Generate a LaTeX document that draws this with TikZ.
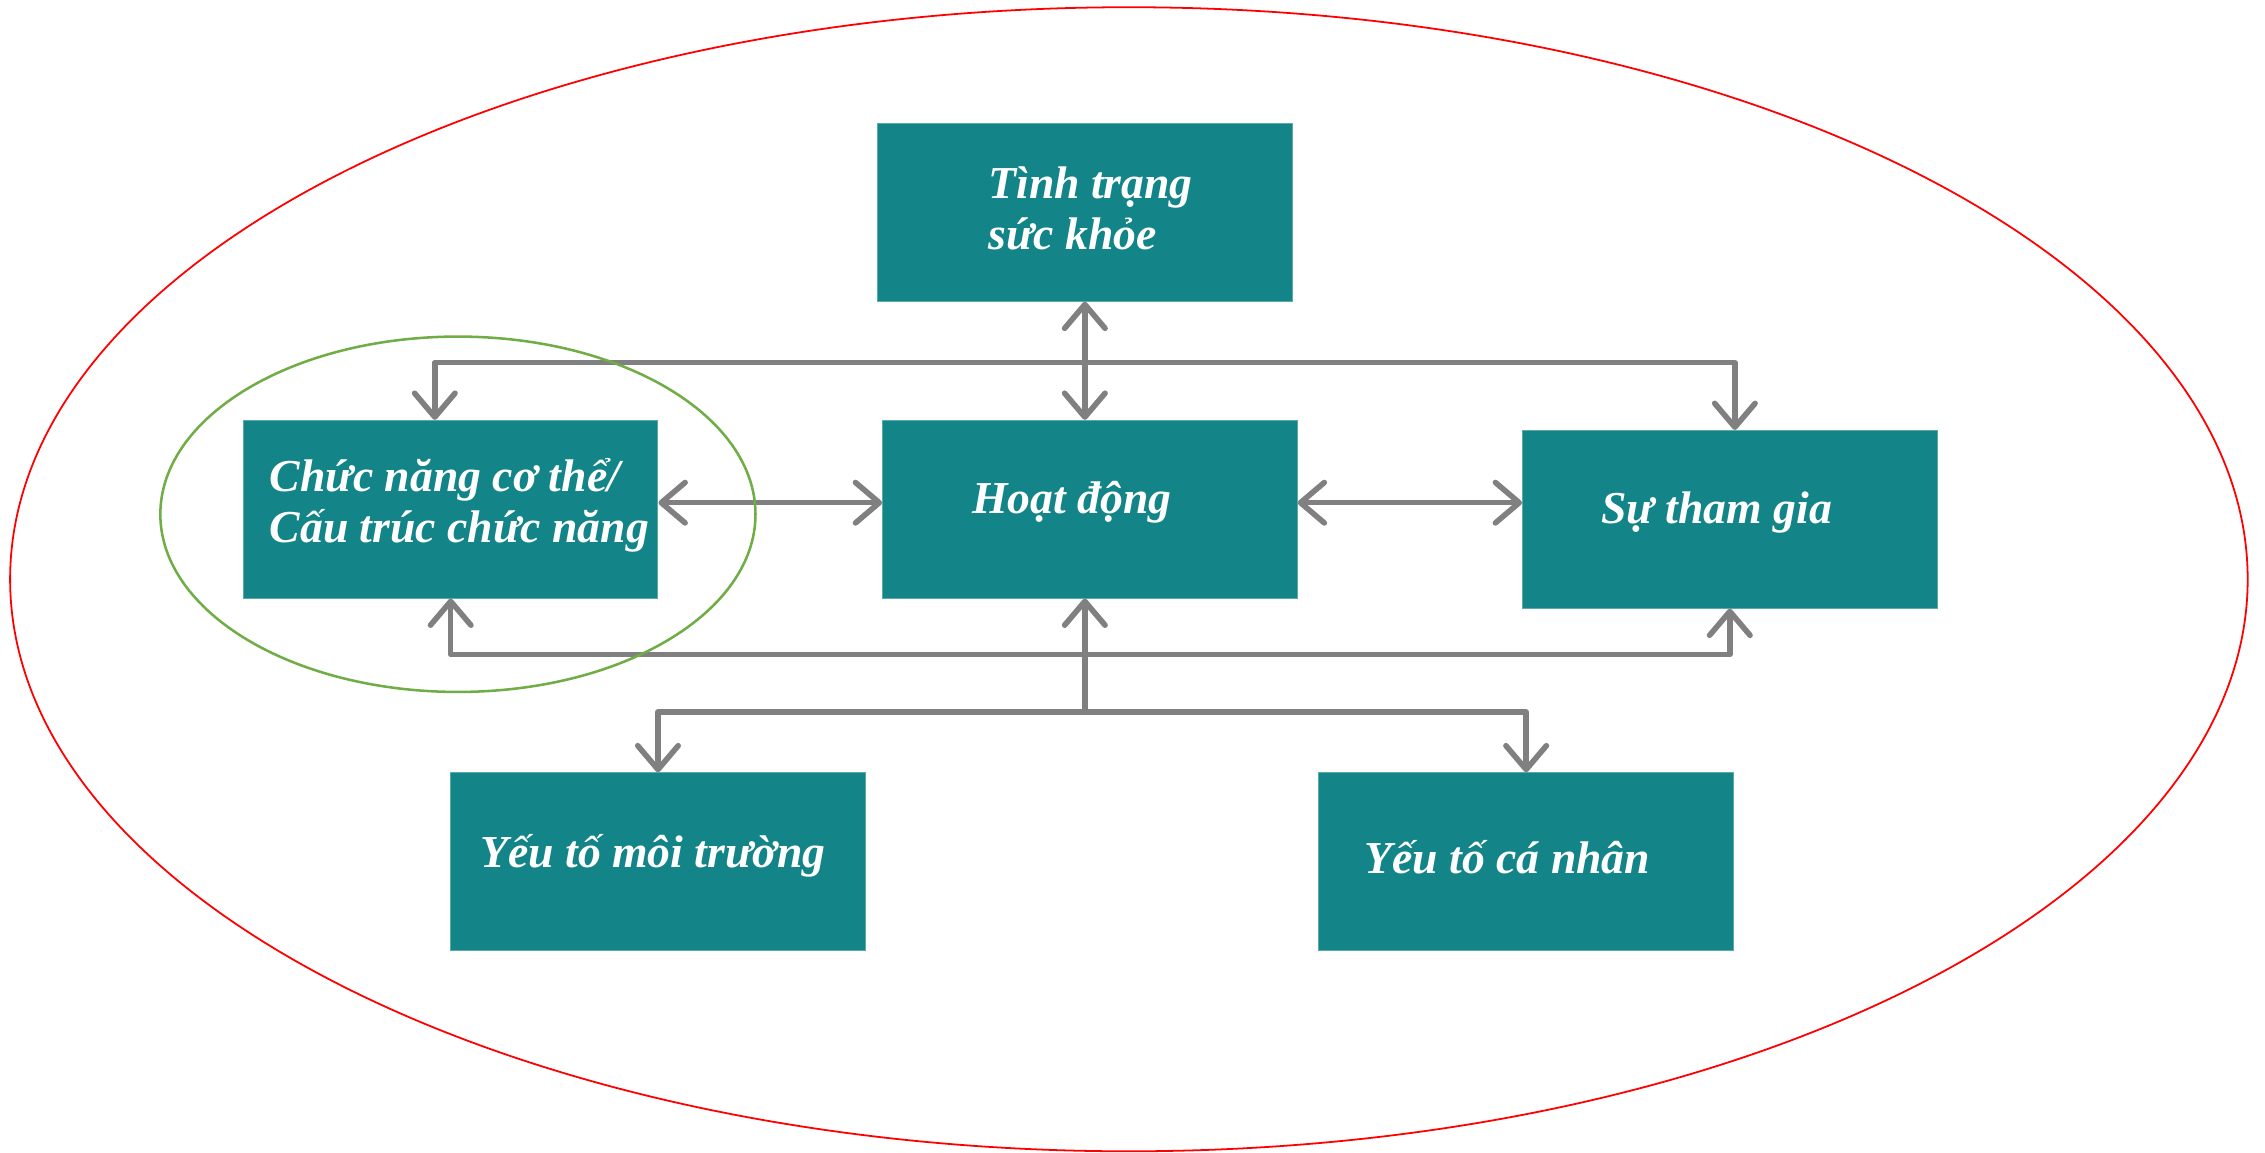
\documentclass[tikz,border=0pt]{standalone}
\usepackage{fontspec}
\setmainfont{Liberation Serif}
\usetikzlibrary{arrows.meta,positioning,calc}
\definecolor{boxcolor}{HTML}{138589}
\definecolor{linkcolor}{HTML}{808080}
\definecolor{outercolor}{HTML}{FF0000}
\definecolor{innercolor}{HTML}{70AD47}

\begin{document}
\begin{tikzpicture}[
  block/.style={draw=boxcolor!70!white, line width=0.4pt, fill=boxcolor, minimum width=5.74cm, minimum height=2.46cm, inner sep=0pt},
  caption/.style={align=left, text=white, inner sep=0pt, font=\fontsize{18}{20}\selectfont\bfseries\itshape},
  link/.style={draw=linkcolor, line width=2.2pt, line cap=round, line join=round},
  >={Straight Barb[length=3.3mm, width=5.6mm, round]},
]
  \useasboundingbox (0,0) rectangle (31.36,-15.96);

  % Outer ellipse
  \draw[outercolor, line width=0.7pt] (15.63,-8.02) ellipse [x radius=15.49, y radius=7.92];

  % Blocks
  \node[block] (tinhtrang) at (15.02,-2.94) {};
  \node[block] (chucnang) at (6.24,-7.05) {};
  \node[block] (hoatdong) at (15.09,-7.05) {};
  \node[block] (thamgia) at (23.95,-7.19) {};
  \node[block] (moitruong) at (9.11,-11.93) {};
  \node[block] (canhan) at (21.13,-11.93) {};

  % Captions
  \node[caption] (tinhtrang-t) at ([shift={(0.08,0.06)}]tinhtrang.center) {Tình trạng\\sức khỏe};
  \node[caption] (chucnang-t) at ([shift={(0.12,0.05)}]chucnang.center) {Chức năng cơ thể/\\Cấu trúc chức năng};
  \node[caption] (hoatdong-t) at ([shift={(-0.25,0.1)}]hoatdong.center) {Hoạt động};
  \node[caption] (thamgia-t) at ([shift={(-0.18,0.1)}]thamgia.center) {Sự tham gia};
  \node[caption] (moitruong-t) at ([shift={(-0.07,0.08)}]moitruong.center) {Yếu tố môi trường};
  \node[caption] (canhan-t) at ([shift={(-0.26,0.06)}]canhan.center) {Yếu tố cá nhân};

  % Bars
  \coordinate (topbar) at (15.02,-5.02);
  \coordinate (botbar) at (15.02,-9.06);
  \coordinate (ctxbar) at (15.02,-9.86);

  % Links
  \draw[link, <->] (tinhtrang.south) -- (tinhtrang.south |- hoatdong.north);
  \draw[link, <->] ([xshift=-0.22cm]chucnang.north) |- (topbar) -| ([xshift=0.07cm]thamgia.north);
  \draw[link, <->] ([yshift=0.09cm]chucnang.east) -- ([yshift=0.09cm]hoatdong.west);
  \draw[link, <->] ([yshift=0.09cm]hoatdong.east) -- ([yshift=0.09cm]hoatdong.east -| thamgia.west);
  \draw[link, <->] (chucnang.south) |- (botbar) -| (thamgia.south);
  \draw[link, ->] (ctxbar) -- (ctxbar |- hoatdong.south);
  \draw[link, <->] (moitruong.north) |- (ctxbar) -| (canhan.north);

  % Inner ellipse
  \draw[innercolor, line width=1pt] (6.34,-7.12) ellipse [x radius=4.12, y radius=2.46];
\end{tikzpicture}
\end{document}
